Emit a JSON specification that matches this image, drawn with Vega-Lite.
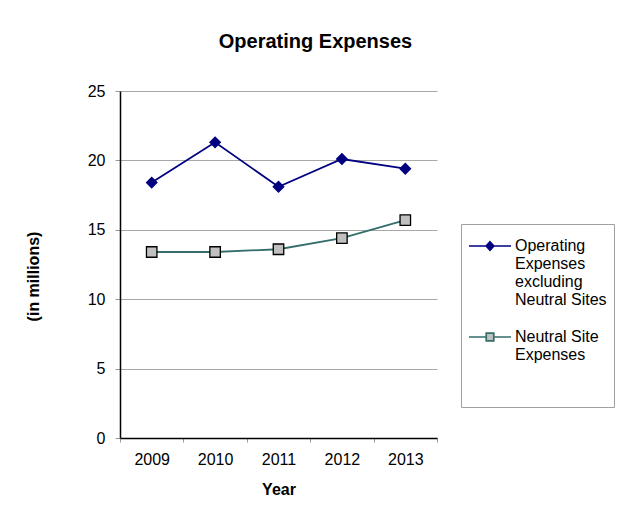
{
  "$schema": "https://vega.github.io/schema/vega-lite/v6.json",
  "autosize": {"type": "none"},
  "padding": {"left": 120, "top": 91, "right": 194, "bottom": 85},
  "width": 317,
  "height": 347,
  "background": "white",
  "title": {
    "text": "Operating Expenses",
    "font": "Liberation Sans",
    "fontSize": 20,
    "fontWeight": "bold",
    "color": "black",
    "anchor": "middle",
    "dx": 37,
    "offset": 31
  },
  "data": {
    "values": [
      {"Year": "2009", "Series": "Operating Expenses excluding Neutral Sites", "Value": 18.4},
      {"Year": "2010", "Series": "Operating Expenses excluding Neutral Sites", "Value": 21.3},
      {"Year": "2011", "Series": "Operating Expenses excluding Neutral Sites", "Value": 18.1},
      {"Year": "2012", "Series": "Operating Expenses excluding Neutral Sites", "Value": 20.1},
      {"Year": "2013", "Series": "Operating Expenses excluding Neutral Sites", "Value": 19.4},
      {"Year": "2009", "Series": "Neutral Site Expenses", "Value": 13.4},
      {"Year": "2010", "Series": "Neutral Site Expenses", "Value": 13.4},
      {"Year": "2011", "Series": "Neutral Site Expenses", "Value": 13.6},
      {"Year": "2012", "Series": "Neutral Site Expenses", "Value": 14.4},
      {"Year": "2013", "Series": "Neutral Site Expenses", "Value": 15.7}
    ]
  },
  "encoding": {
    "x": {
      "field": "Year",
      "type": "ordinal",
      "scale": {"type": "band", "paddingInner": 0, "paddingOuter": 0},
      "axis": {
        "title": "Year",
        "labelAngle": 0,
        "tickBand": "extent",
        "grid": false,
        "domainColor": "black",
        "domainWidth": 1.5,
        "tickColor": "#999999",
        "tickSize": 4,
        "labelPadding": 9,
        "titlePadding": 14
      }
    },
    "y": {
      "field": "Value",
      "type": "quantitative",
      "scale": {"domain": [0, 25]},
      "axis": {
        "title": "(in millions)",
        "values": [0, 5, 10, 15, 20, 25],
        "domainColor": "black",
        "domainWidth": 1.5,
        "tickColor": "#999999",
        "tickSize": 5,
        "labelPadding": 10,
        "gridColor": "#a8a8a8",
        "titleX": -87,
        "titleY": 185,
        "titleBaseline": "middle"
      }
    }
  },
  "layer": [
    {
      "mark": {"type": "line", "strokeWidth": 1.8},
      "encoding": {
        "color": {
          "field": "Series",
          "type": "nominal",
          "scale": {"domain": ["Operating Expenses excluding Neutral Sites", "Neutral Site Expenses"], "range": ["#000080", "#336e6b"]},
          "legend": null
        }
      }
    },
    {
      "mark": {"type": "point", "filled": true, "opacity": 1, "size": 110, "strokeWidth": 1.3},
      "encoding": {
        "shape": {
          "field": "Series",
          "type": "nominal",
          "scale": {"domain": ["Operating Expenses excluding Neutral Sites", "Neutral Site Expenses"], "range": ["diamond", "square"]},
          "legend": null
        },
        "fill": {
          "field": "Series",
          "type": "nominal",
          "scale": {"domain": ["Operating Expenses excluding Neutral Sites", "Neutral Site Expenses"], "range": ["#000080", "#c0c0c0"]},
          "legend": null
        },
        "stroke": {
          "field": "Series",
          "type": "nominal",
          "scale": {"domain": ["Operating Expenses excluding Neutral Sites", "Neutral Site Expenses"], "range": ["#000080", "#000000"]},
          "legend": null
        }
      }
    },
    {
      "mark": {"type": "point", "filled": true, "opacity": 0, "size": 10},
      "encoding": {
        "shape": {
          "field": "Series",
          "type": "nominal",
          "scale": {"domain": ["Operating Expenses excluding Neutral Sites", "Neutral Site Expenses"], "range": ["M-1.5,0H1.5M0,-0.3L0.27,0L0,0.3L-0.27,0Z", "M-1.5,0H-0.27M0.27,0H1.5M-0.27,-0.27H0.27V0.27H-0.27Z"]},
          "legend": {"title": "\u00a0", "orient": "none", "legendX": 341, "legendY": 133, "labelExpr": "datum.value == 'Operating Expenses excluding Neutral Sites' ? ['Operating', 'Expenses', 'excluding', 'Neutral Sites\u00a0\u00a0'] : ['Neutral Site', 'Expenses']"}
        },
        "fill": {
          "field": "Series",
          "type": "nominal",
          "scale": {"domain": ["Operating Expenses excluding Neutral Sites", "Neutral Site Expenses"], "range": ["#000080", "#c0c0c0"]},
          "legend": {"title": "\u00a0", "orient": "none", "legendX": 341, "legendY": 133, "labelExpr": "datum.value == 'Operating Expenses excluding Neutral Sites' ? ['Operating', 'Expenses', 'excluding', 'Neutral Sites\u00a0\u00a0'] : ['Neutral Site', 'Expenses']"}
        },
        "stroke": {
          "field": "Series",
          "type": "nominal",
          "scale": {"domain": ["Operating Expenses excluding Neutral Sites", "Neutral Site Expenses"], "range": ["#000080", "#336e6b"]},
          "legend": {"title": "\u00a0", "orient": "none", "legendX": 341, "legendY": 133, "labelExpr": "datum.value == 'Operating Expenses excluding Neutral Sites' ? ['Operating', 'Expenses', 'excluding', 'Neutral Sites\u00a0\u00a0'] : ['Neutral Site', 'Expenses']"}
        }
      }
    }
  ],
  "resolve": {"scale": {"color": "independent", "shape": "independent", "fill": "independent", "stroke": "independent"}},
  "config": {
    "view": {"stroke": null},
    "axis": {
      "labelFont": "Liberation Sans",
      "labelFontSize": 16,
      "labelColor": "black",
      "titleFont": "Liberation Sans",
      "titleFontSize": 16,
      "titleFontWeight": "bold",
      "titleColor": "black"
    },
    "legend": {
      "symbolSize": 784,
      "symbolOffset": 7,
      "symbolStrokeWidth": 1.7,
      "symbolOpacity": 1,
      "labelFont": "Liberation Sans",
      "labelFontSize": 16,
      "labelColor": "black",
      "labelLimit": 200,
      "labelLineHeight": 19,
      "labelOffset": 10,
      "rowPadding": 14,
      "padding": 7,
      "strokeColor": "#a0a0a0",
      "fillColor": "white",
      "titleOrient": "bottom",
      "titleFont": "Liberation Sans",
      "titleFontSize": 16,
      "titleFontWeight": "normal",
      "titlePadding": 21
    }
  }
}
